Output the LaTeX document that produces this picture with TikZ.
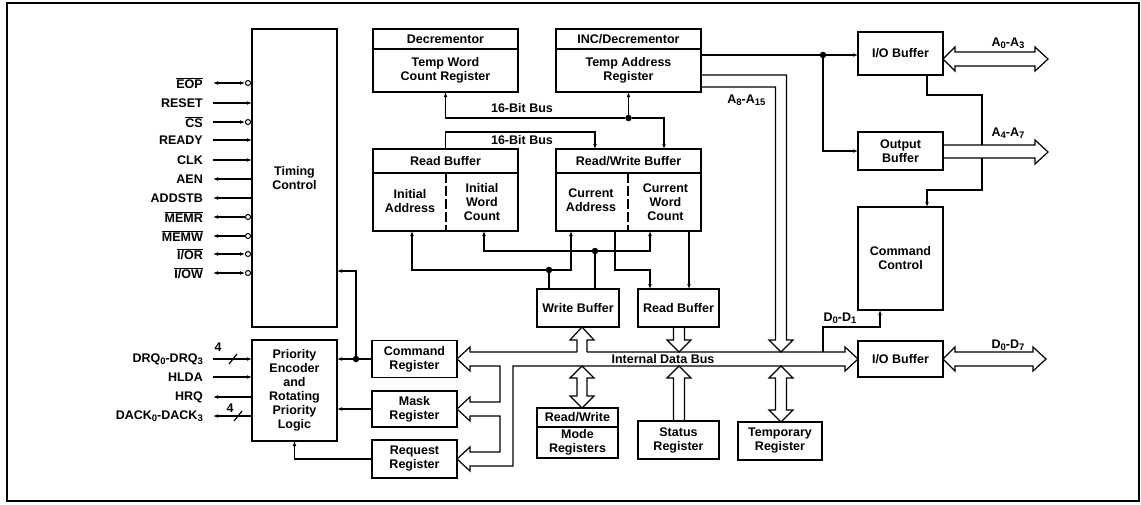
\documentclass[tikz,border=0pt]{standalone}
\usepackage{fontspec}
\setmainfont{Liberation Sans}
\usetikzlibrary{positioning,arrows.meta}

\newcommand{\sbs}[1]{\raisebox{-0.3ex}{\fontsize{9.5}{10}\selectfont#1}}
\newcommand{\ovl}[1]{$\overline{\mbox{#1}}$}

\tikzset{
	blk/.style={draw, line width=1.9pt, inner sep=0pt, outer sep=0pt, align=center},
	con/.style={line width=1.2pt},
	txt/.style={inner sep=0pt, align=center},
	dot/.style={circle, fill, inner sep=0pt, minimum size=6.5pt},
	inv/.style={circle, draw, line width=1pt, fill=white, inner sep=0pt, minimum size=5pt},
	lbl/.style={inner sep=0pt, anchor=east},
}

\begin{document}
\begin{tikzpicture}[x=1pt, y=-1pt, >={Latex[length=5pt,width=3.8pt]},
	font=\fontsize{12.5}{14}\selectfont\bfseries]

	\useasboundingbox (0,0) rectangle (1141,504);
	\draw[line width=1.3pt] (7,3) rectangle (1139,501);

	\node[blk, minimum width=85, minimum height=298] (timing) at (294.5,178) {Timing\\Control};
	\node[blk, minimum width=85, minimum height=101] (prio) at (294.5,390.5) {Priority\\Encoder\\and\\Rotating\\Priority\\Logic};
	\node[blk, minimum width=85, minimum height=37] (cmd) at (414.5,359) {Command\\Register};
	\node[blk, minimum width=85, minimum height=36] (mask) at (414.5,409) {Mask\\Register};
	\node[blk, minimum width=85, minimum height=38] (req) at (414.5,459) {Request\\Register};

	\node[blk, minimum width=145, minimum height=20] (dech) at (445.5,39) {Decrementor};
	\node[blk, minimum width=145, minimum height=43, below=0pt of dech] (decb) {Temp Word\\Count Register};
	\node[blk, minimum width=145, minimum height=20] (inch) at (628.5,39) {INC/Decrementor};
	\node[blk, minimum width=145, minimum height=43, below=0pt of inch] (incb) {Temp Address\\Register};

	\node[blk, minimum width=145, minimum height=24] (rbh) at (445.5,161) {Read Buffer};
	\node[blk, minimum width=145, minimum height=58, below=0pt of rbh] (rbb) {};
	\node[blk, minimum width=145, minimum height=24] (rwh) at (628.5,161) {Read/Write Buffer};
	\node[blk, minimum width=145, minimum height=58, below=0pt of rwh] (rwb) {};
	\draw[line width=1.1pt, dash pattern=on 10pt off 3pt] (rbb.north -| 446,0) -- (rbb.south -| 446,0);
	\draw[line width=1.1pt, dash pattern=on 10pt off 3pt] (rwb.north -| 628,0) -- (rwb.south -| 628,0);
	\node[txt] (ia) at (410,201) {Initial\\Address};
	\node[txt] (iwc) at (482,202) {Initial\\Word\\Count};
	\node[txt] (ca) at (591,200) {Current\\Address};
	\node[txt] (cwc) at (665.5,202) {Current\\Word\\Count};

	\node[blk, minimum width=82, minimum height=38] (wbuf) at (578,308) {Write Buffer};
	\node[blk, minimum width=81, minimum height=38] (rdbuf) at (678.5,308) {Read Buffer};
	\node[blk, minimum width=81, minimum height=19] (modeh) at (577.5,417.5) {Read/Write};
	\node[blk, minimum width=81, minimum height=31, below=0pt of modeh] (modeb) {Mode\\Registers};
	\node[blk, minimum width=81, minimum height=38] (stat) at (678.5,440) {Status\\Register};
	\node[blk, minimum width=84, minimum height=38] (temp) at (780,441) {Temporary\\Register};

	\node[blk, minimum width=85, minimum height=43] (ioa) at (900.5,53.5) {I/O Buffer};
	\node[blk, minimum width=85, minimum height=38] (outb) at (900.5,151) {Output\\Buffer};
	\node[blk, minimum width=85, minimum height=103] (cmdctl) at (900.5,258.5) {Command\\Control};
	\node[blk, minimum width=85, minimum height=36] (iod) at (900.5,359) {I/O Buffer};

	\node[dot] (d1) at (356,359) {};
	\node[dot] (d2) at (628.5,118) {};
	\node[dot] (d3) at (549,270) {};
	\node[dot] (d4) at (595,251) {};
	\node[dot] (d5) at (823,55) {};

	\node[lbl] (eop) at (203,83) {\ovl{EOP}};
	\node[lbl] (reset) at (203,103) {RESET};
	\node[lbl] (cs) at (203,122) {\ovl{CS}};
	\node[lbl] (ready) at (203,140) {READY};
	\node[lbl] (clk) at (203,160) {CLK};
	\node[lbl] (aen) at (203,179) {AEN};
	\node[lbl] (addstb) at (203,198) {ADDSTB};
	\node[lbl] (memr) at (203,217) {\ovl{MEMR}};
	\node[lbl] (memw) at (203,236) {\ovl{MEMW}};
	\node[lbl] (ior) at (203,254) {\ovl{I/OR}};
	\node[lbl] (iow) at (203,273) {\ovl{I/OW}};
	\node[lbl] (drq) at (203,359) {DRQ\sbs{0}-DRQ\sbs{3}};
	\node[lbl] (hlda) at (203,377) {HLDA};
	\node[lbl] (hrq) at (203,397) {HRQ};
	\node[lbl] (dack) at (203,416) {DACK\sbs{0}-DACK\sbs{3}};

	\node[inv] (eopc) at (248,83) {};
	\node[inv] (csc) at (248,122) {};
	\node[inv] (memrc) at (248,217) {};
	\node[inv] (memwc) at (248,236) {};
	\node[inv] (iorc) at (248,254) {};
	\node[inv] (iowc) at (248,273) {};

	\draw[con,<->] ([xshift=10pt]eop.east) -- (eopc);
	\draw[con,->] ([xshift=10pt]reset.east) -- (timing.west |- reset.east);
	\draw[con,->] ([xshift=10pt]cs.east) -- (csc);
	\draw[con,->] ([xshift=10pt]ready.east) -- (timing.west |- ready.east);
	\draw[con,->] ([xshift=10pt]clk.east) -- (timing.west |- clk.east);
	\draw[con,->] (timing.west |- aen.east) -- ([xshift=10pt]aen.east);
	\draw[con,->] (timing.west |- addstb.east) -- ([xshift=10pt]addstb.east);
	\draw[con,->] (memrc) -- ([xshift=10pt]memr.east);
	\draw[con,->] (memwc) -- ([xshift=10pt]memw.east);
	\draw[con,<->] ([xshift=10pt]ior.east) -- (iorc);
	\draw[con,<->] ([xshift=10pt]iow.east) -- (iowc);

	\draw[con,->] ([xshift=10pt]drq.east) -- (prio.west |- drq.east);
	\draw[con] (229,364) -- (237,354);
	\node (n4a) at (218,347) {4};
	\draw[con,->] ([xshift=10pt]hlda.east) -- (prio.west |- hlda.east);
	\draw[con,->] (prio.west |- hrq.east) -- ([xshift=10pt]hrq.east);
	\draw[con,->] (prio.west |- dack.east) -- ([xshift=10pt]dack.east);
	\draw[con] (234,421) -- (242,411);
	\node (n4b) at (230,408) {4};

	\draw[con,->] (cmd.west) -- (prio.east |- cmd.west);
	\draw[con,->] (d1) -- (356,271) -- (timing.east |- 356,271);
	\draw[con,->] (mask.west) -- (prio.east |- mask.west);
	\draw[con,->] (req.west) -| (prio.south);

	\draw[con,->] (d2) -| (decb.south);
	\draw[con,->] (d2) -- (incb.south);
	\draw[con,->] (d2) -| (rwh.north -| 664,0);
	\node (bus16a) at (522,108) {16-Bit Bus};
	\draw[con,->] (rbh.north) |- (595,132) -- (rwh.north -| 595,0);
	\node (bus16b) at (522,140) {16-Bit Bus};

	\draw[con] (wbuf.north -| d3) -- (d3);
	\draw[con,->] (d3) -| (rbb.south -| 412,0);
	\draw[con,->] (d3) -| (rwb.south -| 571,0);
	\draw[con] (wbuf.north -| d4) -- (d4);
	\draw[con,->] (d4) -| (rbb.south -| 484,0);
	\draw[con,->] (d4) -| (rwb.south -| 650,0);
	\draw[con,->] (rwb.south -| 615,0) |- (650,270) -- (rdbuf.north -| 650,0);
	\draw[con,->] (rwb.south -| 689,0) -- (rdbuf.north -| 689,0);

	\draw[con] (incb.east |- d5) -- (d5);
	\draw[con,->] (d5) -- (ioa.west |- d5);
	\draw[con,->] (d5) |- (outb.west);

	\draw[con] (incb.east |- 0,75) -- (786.5,75) -- (786.5,340) -- (793,340) -- (781,352)
		-- (769,340) -- (775.5,340) -- (775.5,87) -- (incb.east |- 0,87);
	\node[anchor=east] (a815) at (769,100) {A\sbs{8}-A\sbs{15}};

	\draw[con] (587,352) -- (845,352) -- (845,347) -- (iod.west) -- (845,371) -- (845,366)
		-- (513,366) -- (513,466) -- (470,466) -- (470,471) -- (req.east) -- (470,447) -- (470,452)
		-- (500,452) -- (500,416) -- (470,416) -- (470,421) -- (mask.east) -- (470,397) -- (470,402)
		-- (500,402) -- (500,366) -- (470,366) -- (470,371) -- (cmd.east) -- (470,347) -- (470,352)
		-- (577,352);
	\node (idb) at (663,359) {Internal Data Bus};
	\draw[con] (577,352) -- (577,340) -- (570,340) -- (wbuf.south -| 582,0) -- (594,340) -- (587,340) -- (587,352);
	\draw[con] (582,366) -- (594,378) -- (587,378) -- (587,396) -- (594,396) -- (modeh.north -| 582,0)
		-- (570,396) -- (577,396) -- (577,378) -- (570,378) -- cycle;
	\draw[con] (rdbuf.south -| 673.5,0) -- (673.5,340) -- (667,340) -- (679,352) -- (691,340)
		-- (684.5,340) -- (rdbuf.south -| 684.5,0);
	\draw[con] (stat.north -| 673.5,0) -- (673.5,378) -- (667,378) -- (679,366) -- (691,378)
		-- (684.5,378) -- (stat.north -| 684.5,0);
	\draw[con] (781,366) -- (793,378) -- (786.5,378) -- (786.5,410) -- (793,410) -- (temp.north -| 781,0)
		-- (769,410) -- (775.5,410) -- (775.5,378) -- (769,378) -- cycle;

	\coordinate (dbus) at (823,352);
	\draw[con,->] (dbus) |- (880,327) -- (cmdctl.south -| 880,0);
	\node (d01) at (840,318) {D\sbs{0}-D\sbs{1}};

	\draw[con] (iod.east) -- (955,347) -- (955,352) -- (1033,352) -- (1033,347) -- (1046,359)
		-- (1033,371) -- (1033,366) -- (955,366) -- (955,371) -- cycle;
	\node (d07) at (1008,345) {D\sbs{0}-D\sbs{7}};

	\draw[con] (ioa.east |- 0,59) -- (955,47) -- (955,52) -- (1035,52) -- (1035,47) -- (1048,59)
		-- (1035,71) -- (1035,66) -- (955,66) -- (955,71) -- cycle;
	\node (a03) at (1008,43) {A\sbs{0}-A\sbs{3}};

	\draw[con] (outb.east |- 0,145) -- (1035,145) -- (1035,140) -- (1048,152) -- (1035,164)
		-- (1035,158) -- (outb.east |- 0,158);
	\node (a47) at (1008,133) {A\sbs{4}-A\sbs{7}};

	\coordinate (bt) at (982,145);
	\coordinate (bb) at (982,158);
	\draw[con] (ioa.south -| 927,0) |- (982,95) -- (bt);
	\draw[con,->] (bb) |- (927,190) -- (cmdctl.north -| 927,0);

\end{tikzpicture}
\end{document}
